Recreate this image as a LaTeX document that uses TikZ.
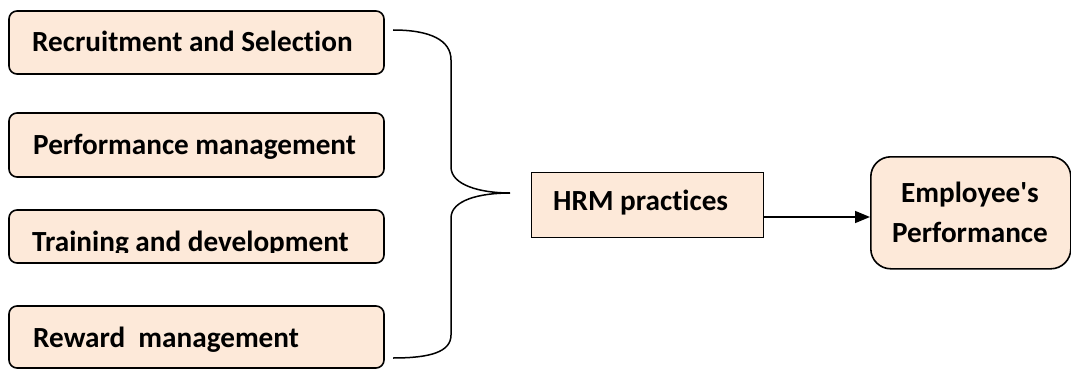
\documentclass[tikz,border=0pt]{standalone}
\usepackage{fontspec}
\setmainfont{Carlito}[Ligatures={NoCommon}]
\usetikzlibrary{arrows.meta}
\definecolor{peach}{HTML}{FDE9D9}
\tikzset{
  practice/.style={draw=black, line width=1.6pt, fill=peach, rounded corners=8pt},
  hrmbox/.style={draw=black, line width=1.4pt, fill=peach},
  outcome/.style={draw=black, line width=1.6pt, fill=peach, rounded corners=20pt},
  lbl/.style={font=\bfseries\fontsize{29.2}{34}\selectfont, inner sep=0pt, anchor=base west},
  brace/.style={draw=black, line width=1.5pt},
}
\begin{document}
\begin{tikzpicture}[x=1pt, y=1pt]
\useasboundingbox (0,0) rectangle (1071,-369);

% practice boxes
\path[practice] (9,-11) rectangle (384,-74);
\path[practice] (9,-113) rectangle (384,-177);
\path[practice] (9,-210) rectangle (384,-263);
\path[practice] (9,-306) rectangle (384,-368);

\node[lbl] (rs) at (32,-52) {Recruitment and Selection};
\node[lbl] (pm) at (33,-154) {Performance management};
\begin{scope}
  \clip (9,-210) rectangle (384,-252);
  \node[lbl] (td) at (32,-251) {Training and development};
\end{scope}
\node[lbl] (rm) at (33,-347) {Reward\ \ management};

% brace gathering the practices
\coordinate (bt) at (393,-30);
\coordinate (bb) at (393,-358);
\coordinate (tip) at (510,-193);
\draw[brace] (bt) .. controls (430,-30) and (451,-40) .. (451,-60)
  -- (451,-167) .. controls (451,-185) and (480,-193) .. (tip)
  .. controls (480,-193) and (451,-200) .. (451,-218)
  -- (451,-335) .. controls (451,-352) and (430,-358) .. (bb);

% HRM practices
\node[hrmbox, minimum width=232pt, minimum height=65pt, anchor=north west] (hrm) at (531,-172) {};
\node[lbl] (hrmt) at (553,-210) {HRM practices};

% outcome
\node[outcome, minimum width=200pt, minimum height=112pt, anchor=north west] (emp) at (870,-156) {};
\node[lbl, anchor=base] (empa) at (970,-202) {Employee\textquotesingle s};
\node[lbl, anchor=base] (empb) at (970,-242) {Performance};

\draw[line width=1.6pt, -{Triangle[length=15pt, width=12pt]}] (hrm.east |- 0,-217) -- (emp.west |- 0,-217);
\end{tikzpicture}
\end{document}
